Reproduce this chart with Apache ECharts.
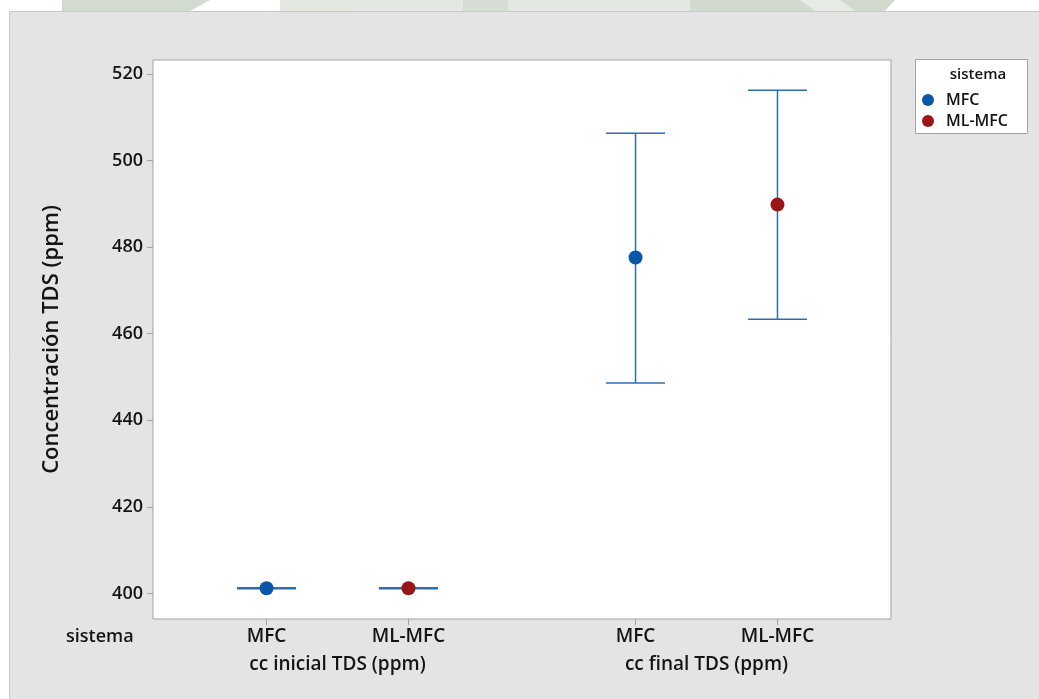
<!DOCTYPE html>
<html>
<head>
<meta charset="utf-8">
<script src="https://cdn.jsdelivr.net/npm/echarts@6/dist/echarts.min.js"></script>
<style>
  html, body { margin: 0; padding: 0; background: #ffffff; }
  #chart { width: 1039px; height: 699px; }
</style>
</head>
<body>
<div id="chart"></div>
<script>
// Interval plot of TDS concentration by system, initial vs final
const systems = ['MFC', 'ML-MFC'];
const groups = ['cc inicial TDS (ppm)', 'cc final TDS (ppm)'];
const yTicks = [400, 420, 440, 460, 480, 500, 520];

// per system: [inicial, final]
const meanMFC = [401.2, 477.6];
const lowMFC = [401.1, 448.6];
const highMFC = [401.3, 506.3];

const meanMLMFC = [401.2, 489.8];
const lowMLMFC = [401.1, 463.3];
const highMLMFC = [401.3, 516.2];

const systemColors = ['#0a56a8', '#9a1616'];
const barColor = '#2f6cb3';
const axisGray = '#a3a3a3';
const textColor = '#141414';
const FONT = 'Open Sans';

// x position of each (group, system) cell on a continuous axis,
// leaving a wider gap between the two groups
function xPos(g, s) { return 1 + g * 2.6 + s; }

const seriesData = [
  { name: systems[0], mean: meanMFC, low: lowMFC, high: highMFC },
  { name: systems[1], mean: meanMLMFC, low: lowMLMFC, high: highMLMFC }
];

const tickPositions = [];
const tickNames = {};
groups.forEach((g, gi) => systems.forEach((s, si) => {
  const p = xPos(gi, si);
  tickPositions.push(p);
  tickNames[p.toFixed(2)] = s;
}));

const series = [];
seriesData.forEach((sd, si) => {
  const barData = sd.mean.map((m, gi) => [xPos(gi, si), sd.low[gi], sd.high[gi]]);
  series.push({
    type: 'custom',
    name: sd.name + ' IC',
    data: barData,
    z: 2,
    silent: true,
    renderItem: function (params, api) {
      const x = api.value(0);
      const lo = api.coord([x, api.value(1)]);
      const hi = api.coord([x, api.value(2)]);
      const hw = 29.5;
      const style = { stroke: barColor, lineWidth: 1.5, fill: null };
      return {
        type: 'group',
        children: [
          { type: 'line', shape: { x1: lo[0], y1: lo[1], x2: hi[0], y2: hi[1] }, style: style },
          { type: 'line', shape: { x1: lo[0] - hw, y1: lo[1], x2: lo[0] + hw, y2: lo[1] }, style: style },
          { type: 'line', shape: { x1: hi[0] - hw, y1: hi[1], x2: hi[0] + hw, y2: hi[1] }, style: style }
        ]
      };
    }
  });
  series.push({
    type: 'scatter',
    name: sd.name,
    data: sd.mean.map((m, gi) => [xPos(gi, si), m]),
    symbol: 'circle',
    symbolSize: 14,
    z: 5,
    itemStyle: { color: systemColors[si], opacity: 1 }
  });
});

const chart = echarts.init(document.getElementById('chart'), null, { renderer: 'canvas' });

const baseGraphic = [
  // faint header band above the panel
  { type: 'polygon', z: -10, shape: { points: [[62, 0], [210, 0], [190, 11], [62, 11]] }, style: { fill: '#d3dbd1' } },
  { type: 'polygon', z: -10, shape: { points: [[280, 0], [350, 0], [350, 11], [280, 11]] }, style: { fill: '#e2e7e0' } },
  { type: 'rect', z: -10, shape: { x: 350, y: 0, width: 340, height: 11 }, style: { fill: '#e3e8e2' } },
  { type: 'rect', z: -10, shape: { x: 463, y: 0, width: 45, height: 11 }, style: { fill: '#d6ddd4' } },
  { type: 'polygon', z: -10, shape: { points: [[690, 0], [895, 0], [885, 11], [690, 11]] }, style: { fill: '#d2dad0' } },
  { type: 'polygon', z: -9, shape: { points: [[800, 0], [840, 0], [855, 11], [815, 11]] }, style: { fill: '#e8ece7' } },
  // panel background
  { type: 'rect', z: -5, shape: { x: 9.5, y: 11.5, width: 1040, height: 700 }, style: { fill: '#e4e4e4', stroke: '#c9c9c9', lineWidth: 1 } },
  // legend box
  { type: 'rect', z: 1, shape: { x: 915.5, y: 59.5, width: 112, height: 74 }, style: { fill: '#ffffff', stroke: axisGray, lineWidth: 1 } },
  { type: 'text', z: 2, x: 978, y: 75, style: { text: 'sistema', fill: textColor, font: '600 15px "' + FONT + '"', align: 'center', verticalAlign: 'middle' } },
  // row header for x-axis labels
  { type: 'text', z: 2, x: 66, y: 637, style: { text: 'sistema', fill: textColor, font: '600 18px "' + FONT + '"', align: 'left', verticalAlign: 'middle' } }
];

const option = {
  backgroundColor: 'transparent',
  animation: false,
  textStyle: { fontFamily: FONT },
  grid: {
    left: 153, right: 148, top: 60, bottom: 80,
    show: true, backgroundColor: '#ffffff', borderColor: axisGray, borderWidth: 1
  },
  legend: {
    data: systems,
    orient: 'vertical',
    left: 917,
    top: 87,
    icon: 'circle',
    itemWidth: 26,
    itemHeight: 12,
    itemGap: 5,
    selectedMode: false,
    textStyle: { color: textColor, fontSize: 16, fontWeight: 600, fontFamily: FONT }
  },
  xAxis: {
    type: 'value',
    min: 0.2,
    max: 5.4,
    splitLine: { show: false },
    axisLine: { show: false },
    axisTick: { show: true, length: 6, lineStyle: { color: axisGray }, customValues: tickPositions },
    axisLabel: {
      show: true,
      customValues: tickPositions,
      margin: 8,
      color: textColor,
      fontSize: 19,
      fontWeight: 600,
      fontFamily: FONT,
      formatter: v => tickNames[Number(v).toFixed(2)] || ''
    }
  },
  yAxis: {
    type: 'value',
    min: 394.1,
    max: 523.2,
    name: 'Concentración TDS (ppm)',
    nameLocation: 'middle',
    nameGap: 90,
    nameTextStyle: { color: textColor, fontSize: 22, fontWeight: 600, fontFamily: FONT },
    splitLine: { show: false },
    axisLine: { show: false },
    axisTick: { show: true, length: 6, lineStyle: { color: axisGray }, customValues: yTicks },
    axisLabel: {
      customValues: yTicks,
      margin: 10,
      color: textColor,
      fontSize: 18,
      fontWeight: 600,
      fontFamily: FONT
    }
  },
  graphic: baseGraphic,
  series: series
};

chart.setOption(option);

// group captions centred under each pair of systems
const groupGraphic = groups.map((g, gi) => {
  const a = chart.convertToPixel({ gridIndex: 0 }, [xPos(gi, 0), 400])[0];
  const b = chart.convertToPixel({ gridIndex: 0 }, [xPos(gi, 1), 400])[0];
  return {
    type: 'text', z: 2, x: (a + b) / 2, y: 665,
    style: { text: g, fill: textColor, font: '600 19px "' + FONT + '"', align: 'center', verticalAlign: 'middle' }
  };
});
chart.setOption({ graphic: baseGraphic.concat(groupGraphic) }, { replaceMerge: ['graphic'] });
</script>
</body>
</html>
